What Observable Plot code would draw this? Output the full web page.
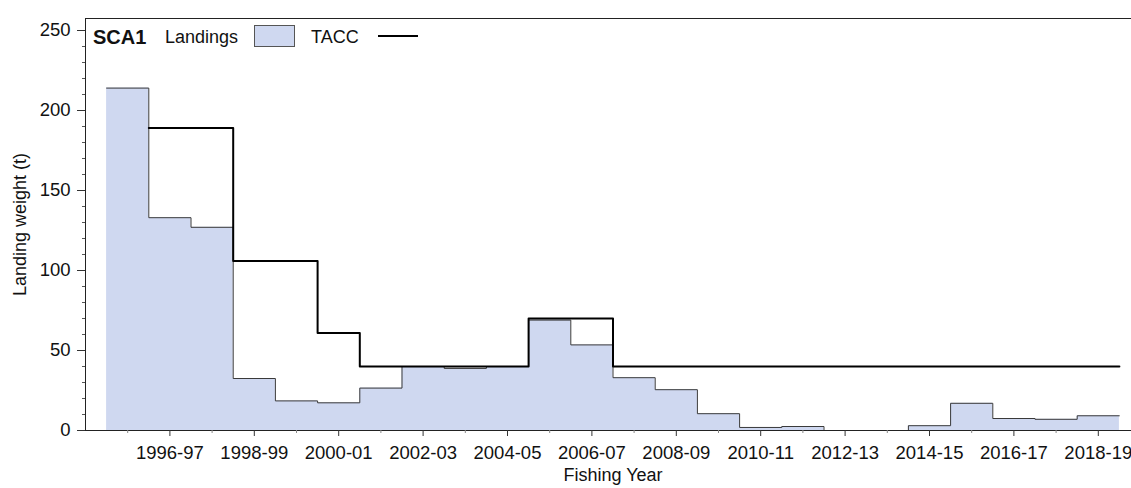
<!DOCTYPE html>
<html>
<head>
<meta charset="utf-8">
<script src="https://cdn.jsdelivr.net/npm/d3@7"></script>
<script src="https://cdn.jsdelivr.net/npm/@observablehq/plot@0.6"></script>
<style>
  html, body { margin: 0; padding: 0; background: #fff; overflow: hidden; }
  #wrap { position: relative; width: 1140px; height: 488px; font-family: "Liberation Sans", Arial, sans-serif; }
  #legend span { position: absolute; color: #111; white-space: nowrap; }
  .sw-box { position: absolute; box-sizing: border-box; background: #cfd8f0; border: 1px solid #555; }
  .sw-line { position: absolute; height: 2px; background: #000; }
</style>
</head>
<body>
<div id="wrap">
  <div id="chart"></div>
  <div id="legend">
    <span style="left:93px;top:26px;font-size:20px;font-weight:bold;">SCA1</span>
    <span style="left:165px;top:27px;font-size:18px;">Landings</span>
    <div class="sw-box" style="left:254px;top:25px;width:41px;height:22px;"></div>
    <span style="left:311px;top:27px;font-size:18px;">TACC</span>
    <div class="sw-line" style="left:378px;top:35px;width:40px;"></div>
  </div>
</div>
<script>
// Fishing years (labels)
const years = ["1995-96","1996-97","1997-98","1998-99","1999-00","2000-01","2001-02","2002-03",
  "2003-04","2004-05","2005-06","2006-07","2007-08","2008-09","2009-10","2010-11","2011-12",
  "2012-13","2013-14","2014-15","2015-16","2016-17","2017-18","2018-19"];
// Landings (t)
const landings = [214, 133, 127, 32.5, 18.5, 17.3, 26.5, 40, 38.8, 40, 69, 53.5, 33, 25.5,
  10.5, 1.9, 2.5, 0, 0, 3, 17, 7.5, 7, 9.2];
// TACC (t); none shown for 1995-96
const tacc = [null, 189, 189, 106, 106, 61, 40, 40, 40, 40, 70, 70, 40, 40, 40, 40, 40, 40,
  40, 40, 40, 40, 40, 40];
const yTicks = [0, 50, 100, 150, 200, 250];

const start = y => +y.slice(0, 4);
const n = years.length;
const firstYear = start(years[0]);
const lastEnd = start(years[n - 1]) + 1;

// step data: one point at each year start, plus closing point at the end of last year
const landStep = years.map((y, i) => ({x: start(y), v: landings[i]}))
  .concat([{x: lastEnd, v: landings[n - 1]}]);
const taccStep = years.map((y, i) => ({x: start(y), v: tacc[i]}))
  .concat([{x: lastEnd, v: tacc[n - 1]}]);

const centers = years.map(y => start(y) + 0.5);
const majorCenters = centers.filter((c, i) => i % 2 === 1);
const minorCenters = centers.filter((c, i) => i % 2 === 0);
const labelOf = new Map(centers.map((c, i) => [c, years[i]]));
const yMinor = d3.range(0, 251, 10).filter(v => v % 50 !== 0);

const chart = Plot.plot({
  width: 1140,
  height: 488,
  marginLeft: 85,
  marginRight: 0,
  marginTop: 18,
  marginBottom: 58,
  style: {fontFamily: "Liberation Sans, Arial, sans-serif", color: "#111", background: "white"},
  x: {type: "linear", domain: [firstYear - 0.5, lastEnd + 0.5]},
  y: {domain: [0, 257.5]},
  marks: [
    Plot.areaY(landStep, {x: "x", y: "v", curve: "step-after", fill: "#cfd8f0"}),
    Plot.lineY(landStep, {x: "x", y: "v", curve: "step-after", stroke: "#3a3a3a", strokeWidth: 1}),
    Plot.lineY(taccStep, {x: "x", y: "v", curve: "step-after", stroke: "#000", strokeWidth: 2}),
    Plot.frame({anchor: "top", stroke: "#222"}),
    Plot.frame({anchor: "left", stroke: "#222"}),
    Plot.frame({anchor: "bottom", stroke: "#222"}),
    Plot.axisY(yTicks, {tickSize: 8, tickPadding: 7, fontSize: 18.5, label: null, stroke: "#333"}),
    Plot.axisY(yMinor, {tickSize: 3, tickFormat: () => "", label: null, stroke: "#555"}),
    Plot.axisX(majorCenters, {tickSize: 6, tickPadding: 9, fontSize: 18.5, label: null,
      tickFormat: d => labelOf.get(d), stroke: "#333"}),
    Plot.axisX(minorCenters, {tickSize: 3, tickFormat: () => "", label: null, stroke: "#888"}),
    Plot.text(["Landing weight (t)"], {frameAnchor: "left", dx: -65, rotate: -90, textAnchor: "middle",
      fontSize: 18, fill: "#111"}),
    Plot.text(["Fishing Year"], {frameAnchor: "bottom", dy: 38, lineAnchor: "top", fontSize: 18, fill: "#111"})
  ]
});
document.getElementById("chart").appendChild(chart);
</script>
</body>
</html>
